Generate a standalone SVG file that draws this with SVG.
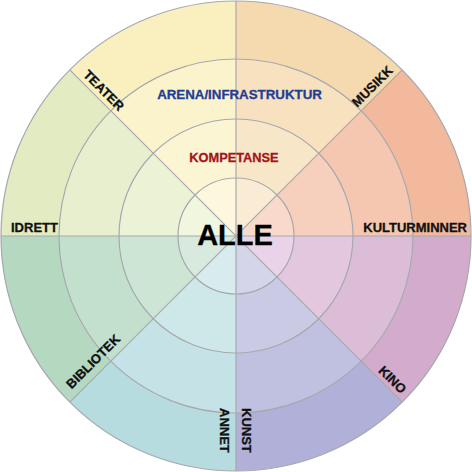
<svg xmlns="http://www.w3.org/2000/svg" xmlns:xlink="http://www.w3.org/1999/xlink" width="472" height="472" viewBox="0 0 472 472">
<style>
.lbl{font-family:"Liberation Sans",Arial,sans-serif;font-weight:bold;font-size:13px;fill:#111;stroke:#111;stroke-width:0.3}
.ring{font-family:"Liberation Sans",Arial,sans-serif;font-weight:bold;text-anchor:middle;stroke-width:0.3}
.ln{stroke:#A6A8AD;stroke-width:1.2;fill:none}
</style>
<defs>
<path id="w4" d="M471,236 A235,235 0 0 1 402.17,402.17 L361.16,361.16 A177,177 0 0 0 413,236 Z"/>
<path id="w3" d="M413,236 A177,177 0 0 1 361.16,361.16 L318.73,318.73 A117,117 0 0 0 353,236 Z"/>
<path id="w2" d="M353,236 A117,117 0 0 1 318.73,318.73 L277.01,277.01 A58,58 0 0 0 294,236 Z"/>
<path id="w1" d="M294,236 A58,58 0 0 1 277.01,277.01 L236,236 Z"/>
</defs>
<rect width="472" height="472" fill="#fff"/>
<g id="sectors">
<g id="kino" transform="rotate(0 236 236)">
<use xlink:href="#w4" fill="#D3ACCD"/><use xlink:href="#w3" fill="#DCBDD7"/><use xlink:href="#w2" fill="#E2C7DE"/><use xlink:href="#w1" fill="#EAD3E8"/>
</g>
<g id="kunst" transform="rotate(45 236 236)">
<use xlink:href="#w4" fill="#B0B0D8"/><use xlink:href="#w3" fill="#C0C0E0"/><use xlink:href="#w2" fill="#CACAE5"/><use xlink:href="#w1" fill="#D5D5EA"/>
</g>
<g id="annet" transform="rotate(90 236 236)">
<use xlink:href="#w4" fill="#B6DCE0"/><use xlink:href="#w3" fill="#C5E3E6"/><use xlink:href="#w2" fill="#CEE8EA"/><use xlink:href="#w1" fill="#D8ECEF"/>
</g>
<g id="bibliotek" transform="rotate(135 236 236)">
<use xlink:href="#w4" fill="#B4D8C0"/><use xlink:href="#w3" fill="#C3E0CD"/><use xlink:href="#w2" fill="#CDE5D5"/><use xlink:href="#w1" fill="#D7EADD"/>
</g>
<g id="idrett" transform="rotate(180 236 236)">
<use xlink:href="#w4" fill="#E2EBC2"/><use xlink:href="#w3" fill="#E8EFCE"/><use xlink:href="#w2" fill="#ECF2D6"/><use xlink:href="#w1" fill="#F1F6DF"/>
</g>
<g id="teater" transform="rotate(225 236 236)">
<use xlink:href="#w4" fill="#FAF0BF"/><use xlink:href="#w3" fill="#FBF3CC"/><use xlink:href="#w2" fill="#FCF5D4"/><use xlink:href="#w1" fill="#FDF7DD"/>
</g>
<g id="musikk" transform="rotate(270 236 236)">
<use xlink:href="#w4" fill="#F5D9AF"/><use xlink:href="#w3" fill="#F7E1BF"/><use xlink:href="#w2" fill="#F8E6C9"/><use xlink:href="#w1" fill="#FAEBD5"/>
</g>
<g id="kulturminner" transform="rotate(315 236 236)">
<use xlink:href="#w4" fill="#F3B99C"/><use xlink:href="#w3" fill="#F5C7B0"/><use xlink:href="#w2" fill="#F7D0BD"/><use xlink:href="#w1" fill="#F9DACA"/>
</g>
</g>
<g id="connectors">
<circle class="ln" cx="236" cy="236" r="58"/>
<circle class="ln" cx="236" cy="236" r="117"/>
<circle class="ln" cx="236" cy="236" r="177"/>
<circle class="ln" cx="236" cy="236" r="235" stroke="#B4B4B4"/>
<line class="ln" x1="1" y1="236" x2="471" y2="236"/>
<line class="ln" x1="236" y1="1" x2="236" y2="471"/>
<line class="ln" x1="69.83" y1="69.83" x2="402.17" y2="402.17"/>
<line class="ln" x1="402.17" y1="69.83" x2="69.83" y2="402.17"/>
</g>
<g id="labels">
<text class="lbl" transform="translate(82.5,75.5) rotate(45)">TEATER</text>
<text class="lbl" transform="translate(357.3,107.7) rotate(-45)">MUSIKK</text>
<text class="lbl" x="467" y="231.5" text-anchor="end">KULTURMINNER</text>
<text class="lbl" x="11" y="231.5">IDRETT</text>
<text class="lbl" transform="translate(71.5,389.5) rotate(-45)">BIBLIOTEK</text>
<text class="lbl" transform="translate(377.8,371.4) rotate(45)">KINO</text>
<text class="lbl" transform="translate(242,408) rotate(90)">KUNST</text>
<text class="lbl" transform="translate(220,408) rotate(90)">ANNET</text>
</g>
<g id="arena"><text class="ring" x="239.5" y="99" font-size="13.3" fill="#1F3D98" stroke="#1F3D98">ARENA/INFRASTRUKTUR</text></g>
<g id="kompetanse"><text class="ring" x="234" y="162" font-size="12.8" fill="#A31418" stroke="#A31418">KOMPETANSE</text></g>
<g id="alle"><text class="ring" x="235" y="245" font-size="29" fill="#000" stroke="#000" stroke-width="0.6">ALLE</text></g>
</svg>
